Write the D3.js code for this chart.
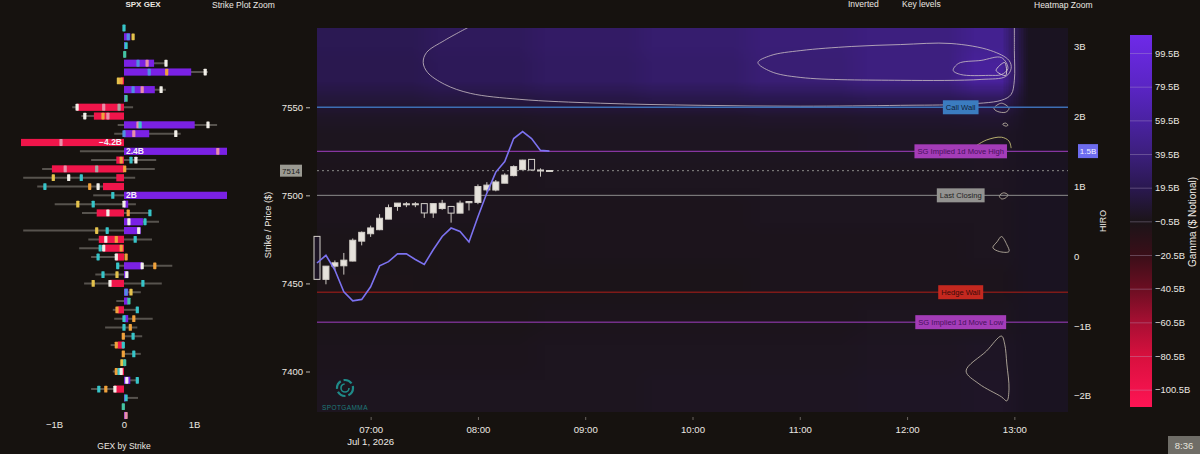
<!DOCTYPE html>
<html>
<head>
<meta charset="utf-8">
<script src="https://cdn.jsdelivr.net/npm/d3@7/dist/d3.min.js"></script>
<style>
  body { margin: 0; background: #16120f; overflow: hidden; }
  svg { display: block; }
  text { font-family: 'Liberation Sans', Arial, sans-serif; }
</style>
</head>
<body>
<script>
// variables:
var w = 1200
var h = 454

// ---- GEX by strike (left panel) ----
var strikes = [7595, 7590, 7585, 7580, 7575, 7570, 7565, 7560, 7555, 7550, 7545, 7540, 7535, 7530, 7525,
  7520, 7515, 7510, 7505, 7500, 7495, 7490, 7485, 7480, 7475, 7470, 7465, 7460, 7455, 7450,
  7445, 7440, 7435, 7430, 7425, 7420, 7415, 7410, 7405, 7400, 7395, 7390, 7385, 7380, 7375]
var gex = [0, 0.09, 0.02, 0.01, 0.43, 0.96, -0.04, 0.44, 0.02, -0.67, -0.43, 1.01, 0.36, -4.2, 2.4,
  -0.11, -1.03, -0.11, -0.3, 2.0, 0.06, -0.39, 0.27, 0.24, -0.36, -0.3, -0.11, 0.26, 0.06, -0.2,
  0.06, 0.06, -0.09, 0.06, 0, 0, -0.09, 0, 0.02, -0.04, 0.09, -0.14, 0.02, 0, 0.03]
var gexLow = [0, 0, 0, 0, 0, 0, -0.1, 0, 0, -0.74, -0.61, -0.09, -0.14, 0, -0.63,
  -0.47, -1.17, -1.44, -1.24, -0.44, -0.99, -0.6, 0, -1.44, -0.51, -0.64, -0.47, -0.09, -0.41, -0.57,
  0, -0.11, -0.16, -0.14, -0.27, 0, -0.19, 0, 0, -0.16, 0, -0.47, 0, 0, 0]
var gexHigh = [0, 0, 0, 0, 0.6, 1.2, 0, 0.6, 0, 0.13, 0, 1.33, 0.81, 0, 0,
  0.46, 0.44, 0.16, 0, 0, 0.17, 0.37, 0.5, 0, 0.4, 0, 0, 0.69, 0.06, 0.54,
  0.24, 0.07, 0.19, 0.41, 0.19, 0.26, 0, 0.24, 0, 0, 0.21, 0, 0.2, 0, 0]
// earlier readings of each strike: [value, kind]
var gexMarks = [
  [[0, 'cyan']],
  [[0.06, 'blue'], [0.13, 'yellow']],
  [[0.03, 'cyan']],
  [[0.01, 'teal']],
  [[0.2, 'blue'], [0.33, 'pink'], [0.6, 'white']],
  [[0.36, 'blue'], [0.61, 'orange'], [1.16, 'white']],
  [[-0.08, 'yellow'], [-0.04, 'orange']],
  [[0.13, 'blue'], [0.26, 'pink'], [0.53, 'white']],
  [[0.03, 'teal']],
  [[-0.67, 'white'], [-0.29, 'pink'], [-0.07, 'gray']],
  [[-0.56, 'white'], [-0.3, 'orange'], [-0.23, 'pink']],
  [[0.2, 'pink'], [0.23, 'cyan'], [1.2, 'white']],
  [[0, 'blue'], [0.14, 'pink'], [0.74, 'white']],
  [[-0.9, 'pink']],
  [[1.34, 'pink']],
  [[-0.04, 'orange'], [0.1, 'cyan'], [0.17, 'white']],
  [[-0.84, 'pink'], [-0.39, 'gray'], [0.01, 'orange']],
  [[-1.01, 'yellow'], [-0.79, 'white'], [-0.61, 'cyan']],
  [[-1.13, 'cyan'], [-0.49, 'orange'], [-0.37, 'white']],
  [[-0.16, 'cyan']],
  [[-0.66, 'yellow'], [-0.44, 'cyan'], [0, 'white']],
  [[-0.23, 'white'], [0.06, 'orange'], [0.37, 'cyan']],
  [[0.07, 'white'], [0.3, 'cyan']],
  [[-0.39, 'yellow'], [-0.24, 'cyan'], [0.21, 'white']],
  [[-0.26, 'white'], [-0.11, 'orange'], [0.16, 'cyan']],
  [[-0.34, 'cyan'], [-0.29, 'white'], [-0.04, 'orange']],
  [[-0.37, 'cyan'], [-0.11, 'white'], [0.03, 'orange']],
  [[-0.09, 'cyan'], [0.26, 'white'], [0.44, 'orange']],
  [[-0.3, 'cyan'], [-0.1, 'yellow'], [0.04, 'white']],
  [[-0.44, 'yellow'], [-0.2, 'white'], [0.27, 'cyan']],
  [[0.03, 'blue'], [0.1, 'yellow']],
  [[0.07, 'teal']],
  [[-0.1, 'orange'], [0.19, 'cyan']],
  [[0, 'cyan'], [0.14, 'orange']],
  [[0, 'cyan'], [0.09, 'orange']],
  [[-0.01, 'orange'], [0.13, 'cyan']],
  [[-0.11, 'orange'], [-0.01, 'cyan']],
  [[-0.01, 'orange'], [0.14, 'cyan']],
  [[-0.03, 'yellow'], [0.01, 'teal']],
  [[-0.11, 'orange'], [-0.07, 'cyan'], [-0.04, 'white']],
  [[0.04, 'white'], [0.19, 'cyan']],
  [[-0.36, 'cyan'], [-0.26, 'orange'], [-0.13, 'white']],
  [[0.03, 'cyan']],
  [[-0.01, 'teal']],
  [[0.03, 'pink']]
]
var gexTicks = [-1, 0, 1]

// ---- price candles, 5 minute ----
var candleTimes = ['06:30', '06:35', '06:40', '06:45', '06:50', '06:55', '07:00', '07:05', '07:10', '07:15',
  '07:20', '07:25', '07:30', '07:35', '07:40', '07:45', '07:50', '07:55', '08:00', '08:05',
  '08:10', '08:15', '08:20', '08:25', '08:30', '08:35', '08:40']
var candleOpen = [7476.7, 7452.3, 7459.8, 7460, 7462.7, 7474, 7478.2, 7480.5, 7486.5, 7493.7,
  7495, 7495, 7495.3, 7490, 7492.5, 7493.7, 7489.9, 7495.8, 7496, 7503.1,
  7503, 7506.9, 7511.2, 7514.6, 7520.4, 7514.4, 7514]
var candleHigh = [7476.7, 7459.8, 7463, 7467.3, 7475.5, 7479.5, 7482.8, 7489.3, 7494.8, 7495.6,
  7496.2, 7496.2, 7495.3, 7495.3, 7497.4, 7493.7, 7497, 7496.5, 7506.2, 7507.5,
  7508.7, 7512.5, 7517, 7520.2, 7520.5, 7515.3, 7514.2]
var candleLow = [7452.3, 7449.5, 7457.5, 7455, 7462.5, 7471.6, 7476.4, 7480.2, 7486.5, 7491.2,
  7493.3, 7493.3, 7487.2, 7487.2, 7491.8, 7484.5, 7489.9, 7491.4, 7495, 7502,
  7502.3, 7506.9, 7510.8, 7514.5, 7514, 7510.6, 7514]
var candleClose = [7452.3, 7459.8, 7461.7, 7463.2, 7474.5, 7479, 7481.5, 7487, 7493, 7495.6,
  7495.2, 7495.2, 7490, 7495.3, 7495.5, 7489.9, 7495.6, 7496.5, 7505, 7505.8,
  7507.6, 7511.5, 7516.3, 7520, 7514.4, 7514.2, 7514.1]
var lastPrice = 7514

// ---- HIRO (billions) ----
var hiro = [-0.1, 0.01, -0.2, -0.51, -0.64, -0.62, -0.44, -0.14, -0.08, 0.03,
  0.03, -0.05, -0.12, 0.09, 0.28, 0.4, 0.35, 0.2, 0.56, 0.9,
  1.2, 1.35, 1.68, 1.78, 1.68, 1.51, 1.5]
var hiroTicks = [-2, -1, 0, 1, 2, 3]

// ---- key levels ----
var levelNames = ['Call Wall', 'SG Implied 1d Move High', 'Last Closing', 'Hedge Wall', 'SG Implied 1d Move Low']
var levelPrices = [7550, 7525, 7500, 7445, 7428]
var priceTicks = [7400, 7450, 7500, 7550]

// ---- gamma heatmap ($B), rows by strike band, columns by hour ----
var heatStrikeEdges = [7620, 7580, 7560, 7550, 7540, 7520, 7500, 7480, 7460, 7440, 7420, 7400, 7360]
var heatTimeEdges = ['06:30', '07:30', '08:30', '09:30', '10:30', '11:30', '12:30', '13:00']
var heatGamma = [
  [21, 25, 29, 33, 37, 41, 50],
  [19, 23, 27, 31, 36, 41, 56],
  [12, 14, 16, 18, 20, 22, 26],
  [5, 5, 6, 6, 7, 8, 9],
  [2, 2, 3, 3, 3, 4, 4],
  [1, 1, 2, 2, 2, 2, 3],
  [1, 1, 1, 1, 2, 2, 2],
  [0, 0, 1, 1, 1, 1, 2],
  [-1, 0, 0, 0, 1, 1, 1],
  [0, 0, 1, 1, 1, 2, 2],
  [1, 1, 2, 2, 2, 3, 4],
  [2, 2, 2, 3, 3, 4, 5]
]
// gamma contours, [hour, strike]
var contourOuter = [[7.93, 7596], [7.69, 7588], [7.52, 7581], [7.49, 7575.4], [7.53, 7569.8], [7.69, 7563],
  [7.93, 7557.9], [8.39, 7554.5], [9.14, 7552.3], [10.08, 7551.1], [11.01, 7550.6], [11.94, 7551.1],
  [12.5, 7551.7], [12.88, 7554], [12.97, 7557.3], [13.0, 7565.3], [13.0, 7582.2], [13.0, 7598]]
var contourMid = [[10.61, 7575.4], [10.73, 7579.4], [11.01, 7582.2], [11.48, 7584.5], [11.94, 7585.6],
  [12.41, 7586.2], [12.78, 7582.2], [12.95, 7576.6], [12.97, 7572], [12.92, 7567.5], [12.69, 7565.8],
  [11.94, 7565.3], [11.01, 7566.9], [10.73, 7570.3]]
var contourInner = [[12.43, 7570.9], [12.48, 7574.9], [12.69, 7576.6], [12.88, 7578.2], [12.94, 7572],
  [12.88, 7568.6], [12.76, 7568.1], [12.5, 7568.6]]
var contourCore = [[12.83, 7570.9], [12.91, 7575.4], [12.92, 7568.1]]
var contourLoops = [
  [[12.81, 7549.4], [12.88, 7552.3], [12.95, 7549.4], [12.92, 7547.2], [12.84, 7547.7]],
  [[12.89, 7540.4], [12.92, 7541], [12.94, 7539.8], [12.92, 7539.3]],
  [[12.86, 7499.7], [12.9, 7501.4], [12.94, 7500.3], [12.92, 7498.6], [12.88, 7498]],
  [[12.88, 7476.6], [12.93, 7472], [12.95, 7468.1], [12.86, 7468.1], [12.8, 7470.3], [12.84, 7473.7]],
  [[12.88, 7420.1], [12.74, 7411.6], [12.55, 7400.3], [12.67, 7393], [12.88, 7385.6], [12.93, 7383.3],
    [12.95, 7390.1], [12.93, 7404.2], [12.91, 7415.5]]
]
var contourArc = [[12.64, 7528], [12.74, 7531.4], [12.88, 7533], [12.95, 7530.8], [12.97, 7526.8]]

// colour bar
var gammaStops = [-110.5, -80.5, -60.5, -40.5, -20.5, -0.5, 19.5, 39.5, 59.5, 79.5, 110.5]
var gammaColors = ['#ff1454', '#d8103e', '#a80f33', '#6c0e22', '#3a0e18', '#1b1418', '#2a1850', '#3c1f7c', '#4a22a2', '#5a25c4', '#6e2ae8']
var gammaTicks = [99.5, 79.5, 59.5, 39.5, 19.5, -0.5, -20.5, -40.5, -60.5, -80.5, -100.5]

// styles
var markColor = { cyan: '#37c5c9', teal: '#44c4a2', yellow: '#e4c24c', orange: '#f0a23c', white: '#f2efe8', pink: '#e78fa8', blue: '#4f8fe0', gray: '#a8a6a2' }
var levelStyle = {
  'Call Wall': { line: '#3d6eb4', box: '#3b7cc0', text: '#0e2139', width: 1.5 },
  'SG Implied 1d Move High': { line: '#a23fc2', box: '#a43cb8', text: '#46115c', width: 1 },
  'Last Closing': { line: '#8c8c8c', box: '#939290', text: '#222', width: 1 },
  'Hedge Wall': { line: '#7e1a18', box: '#c4281f', text: '#3a0a08', width: 1.5 },
  'SG Implied 1d Move Low': { line: '#a23fc2', box: '#a43cb8', text: '#46115c', width: 1 }
}
var plotBg = '#1a1321'
var txt = '#ece8e2'

// helper functions:
function at (s) {
  var p = s.split(':')
  return new Date(2026, 6, 1, +p[0], +p[1])
}
function atHours (hh) {
  return new Date(2026, 6, 1, 0, 0, Math.round(hh * 3600))
}
function fmtB (v) {
  return v === 0 ? '0' : (v < 0 ? '\u2212' : '') + Math.abs(v) + 'B'
}

var svg = d3.select('body')
  .append('svg')
  .attr('width', w)
  .attr('height', h)

svg.append('rect').attr('width', w).attr('height', h).attr('fill', '#16120f')

var defs = svg.append('defs')

// scales
var x = d3.scaleTime().domain([at('06:30'), at('13:30')]).range([317, 1068])
var y = d3.scaleLinear().domain([7377, 7595]).range([412, 28])
var yHiro = d3.scaleLinear().domain([-2.23, 3.26]).range([412, 28])
var gx = d3.scaleLinear().domain([-1, 1]).range([54, 194])
var gammaColor = d3.scaleLinear().domain(gammaStops).range(gammaColors)
var yBar = d3.scaleLinear().domain([-110.5, 110.5]).range([407, 35])

// ---------- left panel ----------
defs.append('clipPath').attr('id', 'gexClip')
  .append('rect').attr('x', 21).attr('y', 0).attr('width', 206).attr('height', h)

var gexData = strikes.map(function (s, i) {
  return { strike: s, value: gex[i], lo: gexLow[i], hi: gexHigh[i], marks: gexMarks[i] }
})

var left = svg.append('g').attr('clip-path', 'url(#gexClip)')

left.selectAll('line.whisker')
  .data(gexData.filter(function (d) { return d.lo !== d.hi }))
  .enter()
  .append('line')
  .attr('x1', function (d) { return gx(d.lo) })
  .attr('x2', function (d) { return gx(d.hi) })
  .attr('y1', function (d) { return y(d.strike) })
  .attr('y2', function (d) { return y(d.strike) })
  .attr('stroke', '#57534e')
  .attr('stroke-width', 2)

left.selectAll('rect.bar')
  .data(gexData)
  .enter()
  .append('rect')
  .attr('x', function (d) { return gx(Math.min(0, d.value)) })
  .attr('y', function (d) { return y(d.strike) - 3.6 })
  .attr('width', function (d) { return Math.abs(gx(d.value) - gx(0)) })
  .attr('height', 7.2)
  .attr('fill', function (d) { return d.value >= 0 ? '#7a21e4' : '#f0154a' })

gexData.forEach(function (d) {
  left.selectAll(null)
    .data(d.marks)
    .enter()
    .append('rect')
    .attr('x', function (m) { return gx(m[0]) - 1.6 })
    .attr('y', y(d.strike) - 3.4)
    .attr('width', 3.2)
    .attr('height', 6.8)
    .attr('rx', 0.6)
    .attr('fill', function (m) { return markColor[m[1]] })
})

// labels for bars past the edge
left.selectAll('text.big')
  .data(gexData.filter(function (d) { return Math.abs(d.value) > 1.47 }))
  .enter()
  .append('text')
  .attr('x', function (d) { return d.value < 0 ? gx(0) - 2 : gx(0) + 2 })
  .attr('y', function (d) { return y(d.strike) + 3 })
  .attr('text-anchor', function (d) { return d.value < 0 ? 'end' : 'start' })
  .attr('font-size', '8.5px')
  .attr('font-weight', 600)
  .attr('fill', '#f4f0f6')
  .text(function (d) { return (d.value < 0 ? '\u2212' : '') + Math.abs(d.value) + 'B' })

var gAxis = svg.append('g')
  .attr('transform', 'translate(0,418)')
  .call(d3.axisBottom(gx).tickValues(gexTicks).tickSize(0).tickPadding(3).tickFormat(fmtB))
gAxis.select('.domain').remove()
gAxis.selectAll('text').attr('fill', txt).attr('font-size', '9.5px')

svg.append('text')
  .attr('x', 124).attr('y', 449)
  .attr('text-anchor', 'middle')
  .attr('font-size', '8.5px')
  .attr('fill', txt)
  .text('GEX by Strike')

// headers along the top edge
svg.append('text').attr('x', 143).attr('y', 7).attr('text-anchor', 'middle')
  .attr('font-size', '8px').attr('font-weight', 600).attr('fill', txt).text('SPX GEX')
svg.append('text').attr('x', 212).attr('y', 7.5).attr('font-size', '8.5px').attr('fill', txt).text('Strike Plot Zoom')
svg.append('text').attr('x', 848).attr('y', 7).attr('font-size', '8.5px').attr('fill', txt).text('Inverted')
svg.append('text').attr('x', 902).attr('y', 7).attr('font-size', '8.5px').attr('fill', txt).text('Key levels')
svg.append('text').attr('x', 1034).attr('y', 7.5).attr('font-size', '8.5px').attr('fill', txt).text('Heatmap Zoom')

// ---------- main plot ----------
defs.append('clipPath').attr('id', 'plotClip')
  .append('rect').attr('x', 317).attr('y', 28).attr('width', 751).attr('height', 384)

svg.append('rect')
  .attr('x', 317).attr('y', 28).attr('width', 751).attr('height', 384)
  .attr('fill', plotBg)

// heatmap: one small pixel per 15 min x 10 pts, looked up from the bands,
// then stretched by the browser so it reads smooth
var stepMin = 15
var stepPts = 10
var heatStart = at('06:30')
var heatEnd = at('13:30')
var nCols = (heatEnd - heatStart) / (stepMin * 60000)
var nRows = (heatStrikeEdges[0] - heatStrikeEdges[heatStrikeEdges.length - 1]) / stepPts
var edgeMs = heatTimeEdges.map(function (s) { return +at(s) })
var cvs = document.createElement('canvas')
cvs.width = nCols
cvs.height = nRows
var ctx = cvs.getContext('2d')
for (var r = 0; r < nRows; r++) {
  var st = heatStrikeEdges[0] - (r + 0.5) * stepPts
  var ri = 0
  while (ri < heatGamma.length - 1 && st < heatStrikeEdges[ri + 1]) ri++
  for (var c = 0; c < nCols; c++) {
    var tm = +heatStart + (c + 0.5) * stepMin * 60000
    var ci = d3.bisectRight(edgeMs, tm) - 1
    ctx.fillStyle = ci >= heatGamma[0].length ? plotBg : gammaColor(heatGamma[ri][ci])
    ctx.fillRect(c, r, 1, 1)
  }
}

svg.append('g').attr('clip-path', 'url(#plotClip)')
  .append('image')
  .attr('href', cvs.toDataURL())
  .attr('x', x(heatStart))
  .attr('y', y(heatStrikeEdges[0]))
  .attr('width', x(heatEnd) - x(heatStart))
  .attr('height', y(heatStrikeEdges[heatStrikeEdges.length - 1]) - y(heatStrikeEdges[0]))
  .attr('preserveAspectRatio', 'none')

// contours
var cont = svg.append('g').attr('clip-path', 'url(#plotClip)')
  .attr('fill', 'none').attr('stroke-width', 1)
var openLine = d3.line()
  .x(function (d) { return x(atHours(d[0])) })
  .y(function (d) { return y(d[1]) })
  .curve(d3.curveCatmullRom)
var closedLine = d3.line()
  .x(function (d) { return x(atHours(d[0])) })
  .y(function (d) { return y(d[1]) })
  .curve(d3.curveCatmullRomClosed)

cont.append('path').attr('d', openLine(contourOuter)).attr('stroke', '#cbbfc4').attr('opacity', 0.8)
cont.append('path').attr('d', closedLine(contourMid)).attr('stroke', '#cbbfc4').attr('opacity', 0.8)
cont.append('path').attr('d', closedLine(contourInner)).attr('stroke', '#cbbfc4').attr('opacity', 0.8)
cont.append('path').attr('d', closedLine(contourCore)).attr('stroke', '#d6cad0').attr('opacity', 0.9)
cont.selectAll('path.loop')
  .data(contourLoops)
  .enter()
  .append('path')
  .attr('d', function (d) { return closedLine(d) })
  .attr('stroke', '#c9c0ae')
  .attr('opacity', 0.8)
cont.append('path').attr('d', openLine(contourArc)).attr('stroke', '#c6bf76').attr('opacity', 0.9)

// level lines
var levels = levelNames.map(function (n, i) { return { name: n, price: levelPrices[i] } })

svg.selectAll('line.level')
  .data(levels)
  .enter()
  .append('line')
  .attr('x1', 317).attr('x2', 1068)
  .attr('y1', function (d) { return y(d.price) })
  .attr('y2', function (d) { return y(d.price) })
  .attr('stroke', function (d) { return levelStyle[d.name].line })
  .attr('stroke-width', function (d) { return levelStyle[d.name].width })

svg.append('line')
  .attr('x1', 317).attr('x2', 1068)
  .attr('y1', y(lastPrice)).attr('y2', y(lastPrice))
  .attr('stroke', '#8a8a88')
  .attr('stroke-dasharray', '2,3')

// logo
var logo = svg.append('g').attr('transform', 'translate(345,388)')
logo.append('circle').attr('r', 8).attr('fill', 'none').attr('stroke', '#1f8a88').attr('stroke-width', 2.2).attr('stroke-dasharray', '9,3')
logo.append('circle').attr('r', 4).attr('fill', 'none').attr('stroke', '#1f8a88').attr('stroke-width', 1.6).attr('stroke-dasharray', '18,7')
svg.append('text')
  .attr('x', 345).attr('y', 410)
  .attr('text-anchor', 'middle')
  .attr('font-size', '6.5px')
  .attr('letter-spacing', '0.4px')
  .attr('fill', '#1d7a7a')
  .text('SPOTGAMMA')

// candles
var candles = candleTimes.map(function (t, i) {
  return { t: at(t), o: candleOpen[i], hi: candleHigh[i], lo: candleLow[i], c: candleClose[i] }
})

svg.selectAll('line.wick')
  .data(candles)
  .enter()
  .append('line')
  .attr('x1', function (d) { return x(d.t) })
  .attr('x2', function (d) { return x(d.t) })
  .attr('y1', function (d) { return y(d.hi) })
  .attr('y2', function (d) { return y(d.lo) })
  .attr('stroke', '#cfcac4')
  .attr('stroke-width', 1)

svg.selectAll('rect.body')
  .data(candles)
  .enter()
  .append('rect')
  .attr('x', function (d) { return x(d.t) - 3 })
  .attr('y', function (d) { return y(Math.max(d.o, d.c)) })
  .attr('width', 6)
  .attr('height', function (d) { return Math.max(1, Math.abs(y(d.o) - y(d.c))) })
  .attr('fill', function (d) { return d.c >= d.o ? '#e6e2dc' : '#1c1424' })
  .attr('stroke', '#d4d0ca')
  .attr('stroke-width', 1)

// HIRO line
svg.append('path')
  .datum(candleTimes.map(function (t, i) { return [at(t), hiro[i]] }))
  .attr('d', d3.line()
    .x(function (d) { return x(d[0]) })
    .y(function (d) { return yHiro(d[1]) }))
  .attr('fill', 'none')
  .attr('stroke', '#7c72f0')
  .attr('stroke-width', 1.6)

// level tags
var tags = svg.selectAll('g.tag')
  .data(levels)
  .enter()
  .append('g')
  .attr('transform', function (d) { return 'translate(' + x(at('12:30')) + ',' + y(d.price) + ')' })
tags.append('rect').attr('class', 'box')
tags.append('text')
  .attr('text-anchor', 'middle')
  .attr('y', 2.7)
  .attr('font-size', '7.6px')
  .attr('fill', function (d) { return levelStyle[d.name].text })
  .text(function (d) { return d.name })
tags.each(function (d) {
  var g = d3.select(this)
  var tw = g.select('text').node().getComputedTextLength()
  g.select('rect')
    .attr('x', -tw / 2 - 3).attr('y', -7)
    .attr('width', tw + 6).attr('height', 14)
    .attr('fill', levelStyle[d.name].box)
})

// price tag on the left
var pTag = svg.append('g').attr('transform', 'translate(291,' + y(lastPrice) + ')')
pTag.append('rect').attr('x', -11).attr('y', -6).attr('width', 22).attr('height', 12).attr('fill', '#9b9a92')
pTag.append('text').attr('text-anchor', 'middle').attr('y', 3).attr('font-size', '8px').attr('fill', '#1d1d1d').text(lastPrice)

// HIRO value tag on the right
var hTag = svg.append('g').attr('transform', 'translate(1088,' + yHiro(hiro[hiro.length - 1]) + ')')
hTag.append('rect').attr('x', -10).attr('y', -7).attr('width', 20).attr('height', 14).attr('fill', '#6d6cee')
hTag.append('text').attr('text-anchor', 'middle').attr('y', 3).attr('font-size', '8px').attr('fill', '#f4f2ff').text(fmtB(hiro[hiro.length - 1]))

// axes
var yAxis = svg.append('g')
  .attr('transform', 'translate(310,0)')
  .call(d3.axisLeft(y).tickValues(priceTicks).tickSize(4).tickPadding(3).tickFormat(d3.format('d')))
yAxis.select('.domain').remove()
yAxis.selectAll('line').attr('stroke', '#bdb8b2')
yAxis.selectAll('text').attr('fill', txt).attr('font-size', '9.5px')

svg.append('text')
  .attr('transform', 'translate(271,225) rotate(-90)')
  .attr('text-anchor', 'middle')
  .attr('font-size', '9.3px')
  .attr('fill', txt)
  .text('Strike / Price ($)')

var hAxis = svg.append('g')
  .attr('transform', 'translate(1068,0)')
  .call(d3.axisRight(yHiro).tickValues(hiroTicks).tickSize(0).tickPadding(6).tickFormat(fmtB))
hAxis.select('.domain').remove()
hAxis.selectAll('text').attr('fill', txt).attr('font-size', '9.5px')

svg.append('text')
  .attr('transform', 'translate(1106,221) rotate(-90)')
  .attr('text-anchor', 'middle')
  .attr('font-size', '8.8px')
  .attr('fill', txt)
  .text('HIRO')

var xAxis = svg.append('g')
  .attr('transform', 'translate(0,417)')
  .call(d3.axisBottom(x).ticks(d3.timeHour.every(1)).tickSize(3).tickPadding(6).tickFormat(d3.timeFormat('%H:%M')))
xAxis.select('.domain').remove()
xAxis.selectAll('line').attr('stroke', '#6a6560')
xAxis.selectAll('text').attr('fill', txt).attr('font-size', '9.6px')

svg.append('text')
  .attr('x', x(at('07:00'))).attr('y', 445)
  .attr('text-anchor', 'middle')
  .attr('font-size', '9.6px')
  .attr('fill', txt)
  .text('Jul 1, 2026')

// ---------- colour bar ----------
var grad = defs.append('linearGradient').attr('id', 'gammaGrad')
  .attr('x1', 0).attr('y1', 1).attr('x2', 0).attr('y2', 0)
grad.selectAll('stop')
  .data(gammaStops)
  .enter()
  .append('stop')
  .attr('offset', function (d) { return (d - gammaStops[0]) / (gammaStops[gammaStops.length - 1] - gammaStops[0]) })
  .attr('stop-color', function (d, i) { return gammaColors[i] })

svg.append('rect')
  .attr('x', 1130).attr('y', 35).attr('width', 22).attr('height', 372)
  .attr('fill', 'url(#gammaGrad)')

svg.selectAll('line.cb')
  .data(gammaTicks)
  .enter()
  .append('line')
  .attr('x1', 1130).attr('x2', 1152)
  .attr('y1', function (d) { return yBar(d) })
  .attr('y2', function (d) { return yBar(d) })
  .attr('stroke', '#b8a8c8')
  .attr('stroke-opacity', 0.35)

svg.selectAll('text.cb')
  .data(gammaTicks)
  .enter()
  .append('text')
  .attr('x', 1155)
  .attr('y', function (d) { return yBar(d) + 3.3 })
  .attr('font-size', '9.4px')
  .attr('fill', txt)
  .text(function (d) { return (d < 0 ? '\u2212' : '') + Math.abs(d).toFixed(1) + 'B' })

svg.append('text')
  .attr('transform', 'translate(1196,222) rotate(-90)')
  .attr('text-anchor', 'middle')
  .attr('font-size', '10px')
  .attr('fill', txt)
  .text('Gamma ($ Notional)')

// clock box
svg.append('rect').attr('x', 1168).attr('y', 436).attr('width', 32).attr('height', 18).attr('fill', '#6f6d67')
svg.append('text').attr('x', 1184).attr('y', 448.5).attr('text-anchor', 'middle')
  .attr('font-size', '9.5px').attr('fill', '#e6e4de').text('8:36')
</script>
</body>
</html>
